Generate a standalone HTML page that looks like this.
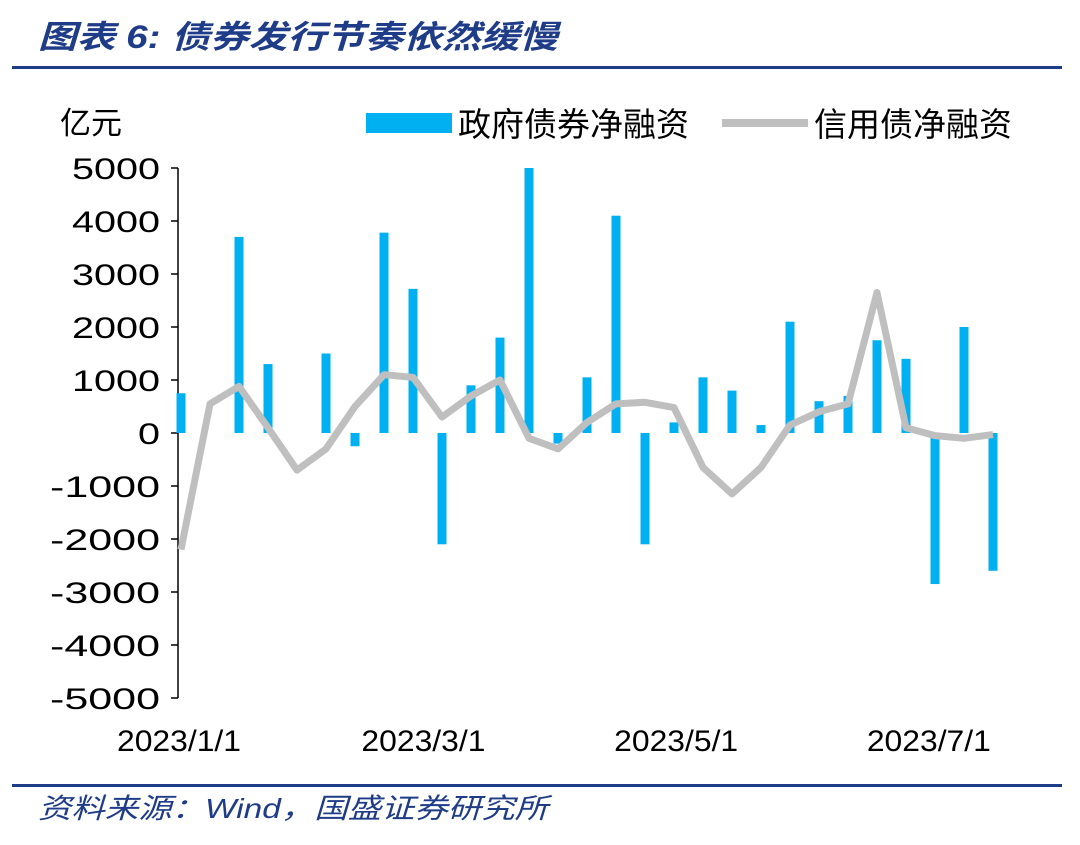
<!DOCTYPE html>
<html><head><meta charset="utf-8"><style>
body{margin:0;background:#fff;width:1080px;height:840px;overflow:hidden;font-family:"Liberation Sans","Noto Sans CJK SC",sans-serif}
</style></head><body>
<svg width="1080" height="840">
<text x="38" y="48" font-size="32" font-style="italic" font-weight="bold" fill="#1F3C88" textLength="520" lengthAdjust="spacingAndGlyphs" font-family="Liberation Sans,Noto Sans CJK SC,sans-serif">图表 6:  债券发行节奏依然缓慢</text>
<rect x="12" y="66" width="1050" height="3" fill="#1F3C88"/>
<text x="60" y="134" font-size="31" fill="#000">亿元</text>
<rect x="366" y="113" width="86" height="20" fill="#00B0F0"/>
<text x="458" y="136" font-size="33" fill="#000">政府债券净融资</text>
<line x1="722" y1="123" x2="808" y2="123" stroke="#BFBFBF" stroke-width="8"/>
<text x="814" y="136" font-size="33" fill="#000">信用债净融资</text>
<g id="axes"></g>
<g id="bars"></g>
<g id="line"></g>
<rect x="12" y="784" width="1050" height="3" fill="#1F3C88"/>
<text x="38" y="818" font-size="28" font-style="italic" fill="#1F3C88" textLength="510" lengthAdjust="spacingAndGlyphs">资料来源：Wind，国盛证券研究所</text>
</svg>
<script>
const govBond=[750,0,3700,1300,0,1500,-250,3780,2720,-2100,900,1800,5000,-200,1050,4100,-2100,200,1050,800,150,2100,600,700,1750,1400,-2850,2000,-2600];
const creditBond=[-2200,550,880,100,-700,-300,500,1100,1050,300,700,1000,-100,-300,200,550,580,480,-650,-1150,-650,150,400,550,2650,100,-50,-100,-30];
const yTicks=[5000,4000,3000,2000,1000,0,-1000,-2000,-3000,-4000,-5000];
const xLabels=["2023/1/1","2023/3/1","2023/5/1","2023/7/1"];
const xLabelDays=[0,59,120,181];
const NS="http://www.w3.org/2000/svg";
const y=v=>433-v*0.053;
const x=i=>181+i*29;
const xd=d=>181+d/7*29;
function mk(tag,attrs,parent){const e=document.createElementNS(NS,tag);for(const k in attrs)e.setAttribute(k,attrs[k]);parent.appendChild(e);return e;}
const ax=document.getElementById('axes');
let l=mk('line',{x1:178,y1:168,x2:178,y2:698,stroke:'#000','stroke-width':1.5},ax);


yTicks.forEach(v=>{
 const t=mk('line',{x1:171,x2:178,y1:y(v),y2:y(v),stroke:'#000','stroke-width':1.5},ax);
 
 
 const s=String(v);
 const w=s.length*22;
 const tx=mk('text',{x:160-w,y:y(v)+11,'font-size':30,fill:'#000',textLength:w,lengthAdjust:'spacingAndGlyphs'},ax);
 tx.textContent=s;
 
 
});
xLabels.forEach((s,i)=>{
 const cx=xd(xLabelDays[i])-2;
 const tx=mk('text',{x:cx-62,y:751,'font-size':30,fill:'#000',textLength:124,lengthAdjust:'spacingAndGlyphs'},ax);
 tx.textContent=s;
 
 
});
const bg=document.getElementById('bars');
govBond.forEach((v,i)=>{
 if(v===0)return;
 const r=mk('rect',{x:x(i)-4.5,width:9,y:Math.min(y(v),y(0)),height:Math.abs(y(v)-y(0)),fill:'#00B0F0'},bg);
 
 
});
const pts=creditBond.map((v,i)=>x(i)+','+y(v)).join(' ');
const pl=mk('polyline',{points:pts,fill:'none',stroke:'#BFBFBF','stroke-width':7,'stroke-linejoin':'round'},document.getElementById('line'));


</script>
</body></html>
